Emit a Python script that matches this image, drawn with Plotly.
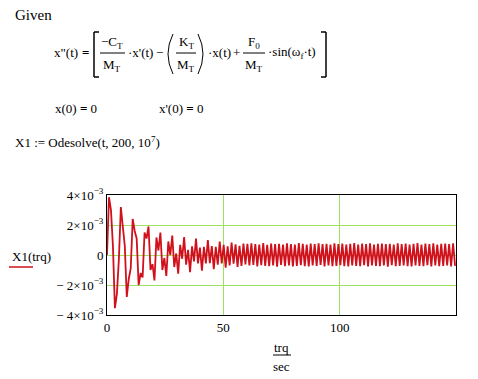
import numpy as np
import plotly.graph_objects as go

# ---- data ----
t_step = 0.85  # seconds between read-off points
x1_milli = [
    0.00, 3.85, 3.00, 0.60, -3.55, -2.60, -0.30, 3.20, 1.90, 0.60,
    -2.80, -1.60, -0.90, 2.40, 1.60, 1.10, -2.00, -1.20, -1.50, 1.50,
    1.10, 1.90, -1.00, -0.60, -1.70, 1.17, 0.30, 1.50, -1.00, -0.20,
    -1.40, 0.90, 0.00, 1.30, -0.80, 0.10, -1.25, 0.68, -0.25, 1.20,
    -0.65, 0.35, -1.15, 0.58, -0.42, 1.10, -0.56, 0.49, -1.05, 0.54,
    -0.56, 1.00, -0.54, 0.60, -0.95, 0.55, -0.65, 0.90, -0.56, 0.67,
    -0.85, 0.57, -0.70, 0.82, -0.58, 0.71, -0.79, 0.61, -0.72, 0.76,
    -0.62,
    0.74, -0.70, 0.78, -0.66, 0.72, -0.76, 0.70, -0.68, 0.80, -0.72,
    0.68, -0.74, 0.76, -0.70, 0.72, -0.78, 0.74, -0.66, 0.70, -0.74,
    0.78, -0.70, 0.72, -0.76, 0.70, -0.72, 0.80, -0.68, 0.74, -0.74,
    0.70, -0.76, 0.76, -0.70, 0.72, -0.72, 0.78, -0.66, 0.72, -0.76,
    0.74, -0.70, 0.70, -0.74, 0.78, -0.72, 0.72, -0.68, 0.76, -0.74,
    0.70, -0.76, 0.74, -0.70, 0.80, -0.72, 0.70, -0.74, 0.76, -0.68,
    0.72, -0.76, 0.78, -0.70, 0.70, -0.72, 0.74, -0.74, 0.76, -0.70,
    0.72, -0.78, 0.74, -0.68, 0.70, -0.74, 0.78, -0.72, 0.72, -0.70,
    0.76, -0.74, 0.70, -0.76, 0.74, -0.70, 0.80, -0.72, 0.70, -0.74,
    0.76, -0.68, 0.72, -0.76, 0.78, -0.70, 0.70, -0.74, 0.74, -0.72,
    0.76, -0.70, 0.72, -0.76, 0.78, -0.72,
]
trq = [round(i * t_step, 3) for i in range(len(x1_milli))]
x1 = [v * 1e-3 for v in x1_milli]

y_tickvals = [-4e-3, -2e-3, 0, 2e-3, 4e-3]
y_ticktext = ["\u2212 4\u00d710<sup>\u22123</sup>", "\u2212 2\u00d710<sup>\u22123</sup>", "0",
              "2\u00d710<sup>\u22123</sup>", "4\u00d710<sup>\u22123</sup>"]
x_tickvals = [0, 50, 100]
x_ticktext = ["0", "50", "100"]

# ---- layout geometry ----
W, H = 478, 379
L, R, T, B = 107, 22, 195, 64
PW, PH = W - L - R, H - T - B


def px(x):
    return (x - L) / PW


def py(y):
    return 1 - (y - T) / PH


FONT = "Liberation Serif"
GRID = "#9fe060"
RED = "#d0101a"

fig = go.Figure()
fig.add_trace(go.Scatter(x=trq, y=x1, mode="lines",
                         line=dict(color=RED, width=1.8),
                         hoverinfo="skip", showlegend=False))

fig.update_layout(
    width=W, height=H,
    margin=dict(l=L, r=R, t=T, b=B, pad=0),
    paper_bgcolor="white", plot_bgcolor="white",
    font=dict(family=FONT, size=13, color="black"),
    showlegend=False,
)
fig.update_xaxes(range=[0, 150], tickvals=x_tickvals, ticktext=x_ticktext,
                 showgrid=True, gridcolor=GRID, gridwidth=1, zeroline=False,
                 showline=True, mirror=True, linecolor="black", linewidth=1,
                 ticks="", tickfont=dict(family=FONT, size=13))
fig.update_yaxes(range=[-4e-3, 4e-3], tickvals=y_tickvals, ticktext=y_ticktext,
                 showgrid=True, gridcolor=GRID, gridwidth=1, zeroline=False,
                 showline=True, mirror=True, linecolor="black", linewidth=1,
                 ticks="", tickfont=dict(family=FONT, size=13))

ann = []


def text(s, x, y, anchor="left", size=13):
    ann.append(dict(text=s, x=px(x), y=py(y), xref="paper", yref="paper",
                    xanchor=anchor, yanchor="middle", showarrow=False,
                    font=dict(family=FONT, size=size, color="black")))


shapes = []


def seg(x0, y0, x1_, y1_, color="black", width=1):
    shapes.append(dict(type="line", xref="paper", yref="paper",
                       x0=px(x0), y0=py(y0), x1=px(x1_), y1=py(y1_),
                       line=dict(color=color, width=width)))


def curve(x0, y0, xc, yc, x1_, y1_, width=1):
    path = "M {:.5f},{:.5f} Q {:.5f},{:.5f} {:.5f},{:.5f}".format(
        px(x0), py(y0), px(xc), py(yc), px(x1_), py(y1_))
    shapes.append(dict(type="path", xref="paper", yref="paper", path=path,
                       line=dict(color="black", width=width)))


# Given block
text("Given", 13, 15, size=15)
text('x"(t)', 52, 53)
text("<b>=</b>", 80, 53)
# brackets
seg(94, 32, 99, 32, width=1.5); seg(94, 32, 94, 77, width=1.5); seg(94, 77, 99, 77, width=1.5)
seg(326, 32, 321, 32, width=1.5); seg(326, 32, 326, 77, width=1.5); seg(326, 77, 321, 77, width=1.5)
# -C_T / M_T
text("\u2212C<sub>T</sub>", 112, 42, "center")
seg(100, 53, 125, 53)
text("M<sub>T</sub>", 112, 65, "center")
text("\u00b7x'(t)", 126, 53)
text("\u2212", 159, 53, "center")
# big parentheses
curve(173, 34, 163, 54, 173, 74)
curve(198, 34, 208, 54, 198, 74)
text("K<sub>T</sub>", 186, 42, "center")
seg(176, 53, 196, 53)
text("M<sub>T</sub>", 186, 65, "center")
text("\u00b7x(t)", 206, 53)
text("+", 236, 53, "center")
text("F<sub>0</sub>", 254, 42, "center")
seg(243, 53, 265, 53)
text("M<sub>T</sub>", 254, 65, "center")
text("\u00b7sin(\u03c9<sub>f</sub>\u00b7t)", 266, 53)

text("x(0) <b>=</b> 0", 53, 109)
text("x'(0) <b>=</b> 0", 157, 109)
text("X1 := Odesolve(t, 200, 10<sup>7</sup>)", 13, 142)

# axis labels
text("X1(trq)", 10, 256)
seg(9, 267, 33, 267, color=RED, width=1.5)
text("trq", 281, 347, "center")
seg(273, 355, 291, 355)
text("sec", 281, 366, "center")

fig.update_layout(annotations=ann, shapes=shapes)
fig.write_html("out.html")
